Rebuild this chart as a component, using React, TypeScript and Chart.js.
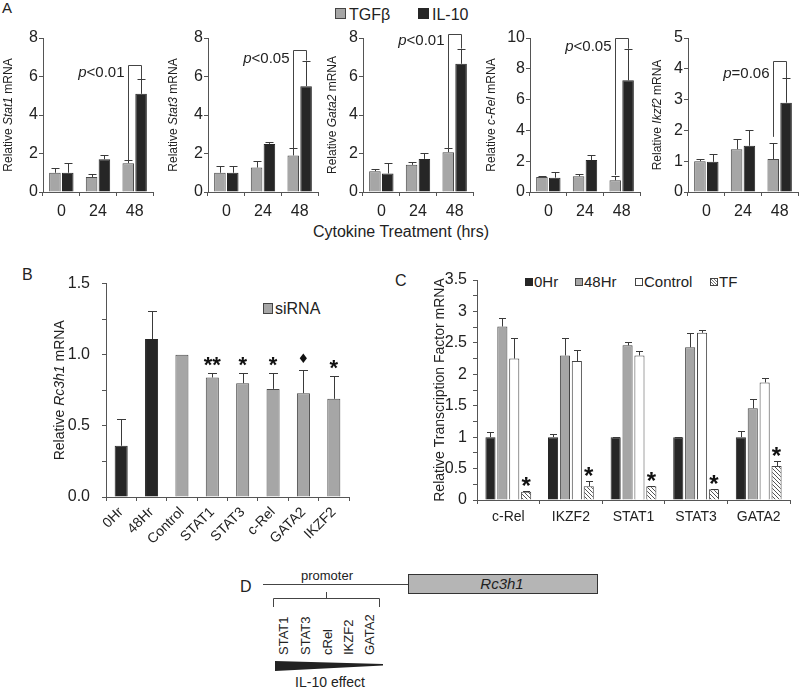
import React, { useEffect, useRef } from 'react';
import { Chart, registerables } from 'chart.js';

Chart.register(...registerables);

const FONT = "'Liberation Sans', Arial, 'DejaVu Sans', sans-serif";
const TXT = '#222222';
const AXIS = '#555555';
const GRAY = '#a6a6a6';
const BLACK = '#262626';
const EDGE = '#4a4a4a';

// ---------- Panel A data ----------
const timeLabels = ['0', '24', '48'];
const stat1TGF = [1.0, 0.78, 1.5];
const stat1TGFErr = [1.25, 0.93, 1.64];
const stat1IL10 = [1.0, 1.7, 5.1];
const stat1IL10Err = [1.5, 1.92, 5.87];

const stat3TGF = [1.0, 1.27, 1.9];
const stat3TGFErr = [1.37, 1.6, 2.26];
const stat3IL10 = [1.0, 2.5, 5.5];
const stat3IL10Err = [1.37, 2.6, 6.83];

const gata2TGF = [1.08, 1.41, 2.07];
const gata2TGFErr = [1.17, 1.58, 2.3];
const gata2IL10 = [0.96, 1.72, 6.66];
const gata2IL10Err = [1.5, 2.01, 7.45];

const crelTGF = [0.98, 1.02, 0.76];
const crelTGFErr = [1.04, 1.17, 1.04];
const crelIL10 = [0.93, 2.07, 7.25];
const crelIL10Err = [1.3, 2.39, 9.3];

const ikzf2TGF = [1.0, 1.39, 1.07];
const ikzf2TGFErr = [1.07, 1.72, 1.58];
const ikzf2IL10 = [0.98, 1.5, 2.9];
const ikzf2IL10Err = [1.22, 2.0, 3.7];

// ---------- Panel B data ----------
const siLabels = ['0Hr', '48Hr', 'Control', 'STAT1', 'STAT3', 'c-Rel', 'GATA2', 'IKZF2'];
const siValues = [0.36, 1.11, 1.0, 0.84, 0.8, 0.76, 0.73, 0.69];
const siErr = [0.55, 1.31, null, 0.87, 0.875, 0.875, 0.89, 0.85];
const siMarks = ['', '', '', '**', '*', '*', '\u2666', '*'];

// ---------- Panel C data ----------
const tfLabels = ['c-Rel', 'IKZF2', 'STAT1', 'STAT3', 'GATA2'];
const hr0Values = [1.0, 1.0, 1.0, 1.0, 1.0];
const hr0Err = [1.08, 1.05, 1.01, 1.01, 1.09];
const hr48Values = [2.76, 2.3, 2.46, 2.43, 1.46];
const hr48Err = [2.9, 2.57, 2.51, 2.66, 1.6];
const controlValues = [2.25, 2.21, 2.3, 2.66, 1.87];
const controlErr = [2.57, 2.38, 2.37, 2.71, 1.94];
const tfValues = [0.13, 0.22, 0.22, 0.17, 0.54];
const tfErr = [0.14, 0.3, 0.23, 0.18, 0.62];
const tfMarks = ['*', '*', '*', '*', '*'];

type Part = { t: string; i?: boolean };

function drawRich(ctx: CanvasRenderingContext2D, parts: Part[], x: number, y: number, size: number, align: 'left' | 'center' | 'right') {
  ctx.save();
  ctx.textBaseline = 'middle';
  ctx.textAlign = 'left';
  ctx.fillStyle = TXT;
  const fontOf = (p: Part) => `${p.i ? 'italic ' : ''}${size}px ${FONT}`;
  let total = 0;
  for (const p of parts) {
    ctx.font = fontOf(p);
    total += ctx.measureText(p.t).width;
  }
  let cx = align === 'center' ? x - total / 2 : align === 'right' ? x - total : x;
  for (const p of parts) {
    ctx.font = fontOf(p);
    ctx.fillText(p.t, cx, y);
    cx += ctx.measureText(p.t).width;
  }
  ctx.restore();
}

function drawYTitle(chart: any, parts: Part[], x: number, size: number) {
  const ctx = chart.ctx as CanvasRenderingContext2D;
  const a = chart.chartArea;
  ctx.save();
  ctx.translate(x, (a.top + a.bottom) / 2);
  ctx.rotate(-Math.PI / 2);
  drawRich(ctx, parts, 0, 0, size, 'center');
  ctx.restore();
}

function drawErrors(chart: any, capHalf: number) {
  const ctx = chart.ctx as CanvasRenderingContext2D;
  const ys = chart.scales.y;
  ctx.save();
  ctx.strokeStyle = '#3a3a3a';
  ctx.lineWidth = 1;
  chart.data.datasets.forEach((ds: any, di: number) => {
    if (!ds.errTop) return;
    const meta = chart.getDatasetMeta(di);
    meta.data.forEach((el: any, i: number) => {
      const e = ds.errTop[i];
      if (e == null) return;
      const x = Math.round(el.x) + 0.5;
      const py = Math.round(ys.getPixelForValue(e)) + 0.5;
      ctx.beginPath();
      ctx.moveTo(x, el.y);
      ctx.lineTo(x, py);
      ctx.moveTo(x - capHalf, py);
      ctx.lineTo(x + capHalf, py);
      ctx.stroke();
    });
  });
  ctx.restore();
}

function drawMarks(chart: any, size: number, gap: number) {
  const ctx = chart.ctx as CanvasRenderingContext2D;
  const ys = chart.scales.y;
  ctx.save();
  ctx.fillStyle = '#111';
  ctx.textAlign = 'center';
  ctx.textBaseline = 'alphabetic';
  chart.data.datasets.forEach((ds: any, di: number) => {
    if (!ds.marks) return;
    const meta = chart.getDatasetMeta(di);
    meta.data.forEach((el: any, i: number) => {
      const m = ds.marks[i];
      if (!m) return;
      const top = ds.errTop && ds.errTop[i] != null ? ys.getPixelForValue(ds.errTop[i]) : el.y;
      const isStar = m.indexOf('*') >= 0;
      ctx.font = isStar ? `bold ${size}px ${FONT}` : `${Math.round(size * 0.6)}px 'DejaVu Sans', ${FONT}`;
      const mt = ctx.measureText(m);
      const bottom = top - gap;
      ctx.fillText(m, el.x, bottom - mt.actualBoundingBoxDescent);
    });
  });
  ctx.restore();
}

function yAxis(max: number, step: number, yW: number, pad: number, size: number, fmt: (v: number) => string) {
  return {
    min: 0,
    max,
    ticks: {
      stepSize: step,
      autoSkip: false,
      padding: pad,
      font: { size, family: FONT },
      color: TXT,
      callback: (v: any) => fmt(Number(v)),
    },
    grid: { drawOnChartArea: false, drawTicks: true, tickLength: 4, color: AXIS, lineWidth: 1 },
    border: { display: true, color: AXIS, width: 1 },
    afterFit: (s: any) => {
      s.width = yW;
    },
  };
}

function xAxis(xH: number, pad: number, size: number, rot: number) {
  return {
    ticks: {
      autoSkip: false,
      padding: pad,
      maxRotation: rot,
      minRotation: rot,
      font: { size, family: FONT },
      color: TXT,
    },
    grid: { drawOnChartArea: false, drawTicks: true, tickLength: 4, color: AXIS, lineWidth: 1, offset: true },
    border: { display: true, color: AXIS, width: 1 },
    afterFit: (s: any) => {
      s.height = xH;
    },
  };
}

const isHalf = (v: number) => Math.abs(v * 2 - Math.round(v * 2)) < 1e-6;

function ChartBox({ left, top, width, height, make }: { left: number; top: number; width: number; height: number; make: () => any }) {
  const ref = useRef<HTMLCanvasElement | null>(null);
  useEffect(() => {
    if (!ref.current) return;
    const chart = new Chart(ref.current, make());
    return () => chart.destroy();
  }, []);
  return (
    <canvas
      ref={ref}
      width={width}
      height={height}
      style={{ position: 'absolute', left, top, width, height }}
    />
  );
}

// ---------- Panel A specs ----------
type ASpec = {
  axisX: number;
  titleX: number;
  gene: string;
  max: number;
  step: number;
  tgf: number[];
  tgfErr: number[];
  il: number[];
  ilErr: number[];
  brTop: number;
  brLeft: number;
  pText: string;
  textDy: number;
};

const panelA: ASpec[] = [
  { axisX: 43, titleX: 9, gene: 'Stat1', max: 8, step: 2, tgf: stat1TGF, tgfErr: stat1TGFErr, il: stat1IL10, ilErr: stat1IL10Err, brTop: 6.6, brLeft: 1.66, pText: '<0.01', textDy: 7 },
  { axisX: 208, titleX: 174, gene: 'Stat3', max: 8, step: 2, tgf: stat3TGF, tgfErr: stat3TGFErr, il: stat3IL10, ilErr: stat3IL10Err, brTop: 7.38, brLeft: 2.28, pText: '<0.05', textDy: 8 },
  { axisX: 363, titleX: 333, gene: 'Gata2', max: 8, step: 2, tgf: gata2TGF, tgfErr: gata2TGFErr, il: gata2IL10, ilErr: gata2IL10Err, brTop: 8.2, brLeft: 2.2, pText: '<0.01', textDy: 6 },
  { axisX: 530, titleX: 492, gene: 'c-Rel', max: 10, step: 2, tgf: crelTGF, tgfErr: crelTGFErr, il: crelIL10, ilErr: crelIL10Err, brTop: 10, brLeft: 1.1, pText: '<0.05', textDy: 8 },
  { axisX: 688, titleX: 658, gene: 'Ikzf2', max: 5, step: 1, tgf: ikzf2TGF, tgfErr: ikzf2TGFErr, il: ikzf2IL10, ilErr: ikzf2IL10Err, brTop: 4.25, brLeft: 1.79, pText: '=0.06', textDy: 12 },
];

const A_YW = 46;
const A_PADTOP = 16;
const A_PLOTW = 110;
const A_PLOTH = 154;
const A_XH = 30;

function makeA(spec: ASpec) {
  const canvasLeft = spec.axisX - A_YW;
  return () => ({
    type: 'bar',
    data: {
      labels: timeLabels,
      datasets: [
        { data: spec.tgf, errTop: spec.tgfErr, backgroundColor: GRAY, borderColor: EDGE, borderWidth: 1, categoryPercentage: 0.7, barPercentage: 0.9 },
        { data: spec.il, errTop: spec.ilErr, backgroundColor: BLACK, borderColor: BLACK, borderWidth: 1, categoryPercentage: 0.7, barPercentage: 0.9 },
      ],
    },
    options: {
      responsive: false,
      animation: false,
      layout: { padding: { top: A_PADTOP, right: 6, left: 0, bottom: 0 } },
      plugins: { legend: { display: false }, tooltip: { enabled: false } },
      scales: {
        x: xAxis(A_XH, 6, 16, 0),
        y: yAxis(spec.max, spec.step, A_YW, 1, 16, (v) => String(v)),
      },
    },
    plugins: [
      {
        id: 'decorA',
        afterDatasetsDraw(chart: any) {
          drawErrors(chart, 4);
          const ctx = chart.ctx as CanvasRenderingContext2D;
          const ys = chart.scales.y;
          const b0 = chart.getDatasetMeta(0).data[2];
          const b1 = chart.getDatasetMeta(1).data[2];
          const lx = Math.round(b0.x) + 0.5;
          const rx = Math.round(b1.x) + 0.5;
          const ty = Math.round(ys.getPixelForValue(spec.brTop)) + 0.5;
          ctx.save();
          ctx.strokeStyle = '#444';
          ctx.lineWidth = 1;
          ctx.beginPath();
          ctx.moveTo(lx, ys.getPixelForValue(spec.brLeft));
          ctx.lineTo(lx, ty);
          ctx.lineTo(rx, ty);
          ctx.lineTo(rx, ys.getPixelForValue(spec.ilErr[2]));
          ctx.stroke();
          ctx.restore();
          drawRich(ctx, [{ t: 'p', i: true }, { t: spec.pText }], lx - 4, ty + spec.textDy, 15, 'right');
          drawYTitle(chart, [{ t: 'Relative ' }, { t: spec.gene, i: true }, { t: ' mRNA' }], spec.titleX - canvasLeft, 12);
        },
      },
    ],
  });
}

// ---------- Panel B ----------
const B_LEFT = 40;
const B_YW = 66;
const B_TOP = 262;
const B_PADTOP = 20;
const B_PLOTW = 243;
const B_PLOTH = 215;
const B_XH = 60;

const makeB = () => ({
  type: 'bar',
  data: {
    labels: siLabels,
    datasets: [
      {
        data: siValues,
        errTop: siErr,
        marks: siMarks,
        backgroundColor: siValues.map((_, i) => (i < 2 ? BLACK : GRAY)),
        borderColor: siValues.map((_, i) => (i < 2 ? BLACK : EDGE)),
        borderWidth: 1,
        categoryPercentage: 1,
        barPercentage: 0.43,
      },
    ],
  },
  options: {
    responsive: false,
    animation: false,
    layout: { padding: { top: B_PADTOP, right: 6, left: 0, bottom: 0 } },
    plugins: { legend: { display: false }, tooltip: { enabled: false } },
    scales: {
      x: xAxis(B_XH, 3, 14, 45),
      y: yAxis(1.5, 0.25, B_YW, 12, 16, (v) => (isHalf(v) ? v.toFixed(1) : '')),
    },
  },
  plugins: [
    {
      id: 'decorB',
      afterDatasetsDraw(chart: any) {
        drawErrors(chart, 4.5);
        drawMarks(chart, 22, 7);
        drawYTitle(chart, [{ t: 'Relative ' }, { t: 'Rc3h1', i: true }, { t: ' mRNA' }], 60 - B_LEFT, 14);
      },
    },
  ],
});

// ---------- Panel C ----------
const C_LEFT = 420;
const C_YW = 57;
const C_TOP = 260;
const C_PADTOP = 20;
const C_PLOTW = 313;
const C_PLOTH = 220;
const C_XH = 35;

function makeHatch(): CanvasPattern | string {
  const c = document.createElement('canvas');
  c.width = 4;
  c.height = 4;
  const g = c.getContext('2d');
  if (!g) return '#ddd';
  g.fillStyle = '#ffffff';
  g.fillRect(0, 0, 4, 4);
  g.strokeStyle = '#555';
  g.lineWidth = 1;
  g.beginPath();
  g.moveTo(0, 0);
  g.lineTo(4, 4);
  g.moveTo(-1, 3);
  g.lineTo(1, 5);
  g.moveTo(3, -1);
  g.lineTo(5, 1);
  g.stroke();
  return g.createPattern(c, 'repeat') || '#ddd';
}

const makeC = () => {
  const common = { borderColor: '#444', borderWidth: 1, categoryPercentage: 0.76, barPercentage: 0.85 };
  return {
    type: 'bar',
    data: {
      labels: tfLabels,
      datasets: [
        { label: '0Hr', data: hr0Values, errTop: hr0Err, backgroundColor: BLACK, ...common, borderColor: BLACK },
        { label: '48Hr', data: hr48Values, errTop: hr48Err, backgroundColor: GRAY, ...common },
        { label: 'Control', data: controlValues, errTop: controlErr, backgroundColor: '#ffffff', ...common },
        { label: 'TF', data: tfValues, errTop: tfErr, marks: tfMarks, backgroundColor: makeHatch(), ...common },
      ],
    },
    options: {
      responsive: false,
      animation: false,
      layout: { padding: { top: C_PADTOP, right: 8, left: 0, bottom: 0 } },
      plugins: { legend: { display: false }, tooltip: { enabled: false } },
      scales: {
        x: xAxis(C_XH, 5, 14, 0),
        y: yAxis(3.5, 0.25, C_YW, 6, 16, (v) => (isHalf(v) ? String(v) : '')),
      },
    },
    plugins: [
      {
        id: 'decorC',
        afterDatasetsDraw(chart: any) {
          drawErrors(chart, 3.5);
          drawMarks(chart, 24, 5);
          drawYTitle(chart, [{ t: 'Relative Transcription Factor mRNA' }], 440 - C_LEFT, 14);
        },
      },
    ],
  };
};

// ---------- Panel D labels ----------
const dFactors = ['STAT1', 'STAT3', 'cRel', 'IKZF2', 'GATA2'];
const dFactorX = [283, 305, 327, 348, 369];

function Static() {
  return (
    <svg width={800} height={687} style={{ position: 'absolute', left: 0, top: 0 }} fontFamily={FONT}>
      <defs>
        <pattern id="hatch" width="3" height="3" patternUnits="userSpaceOnUse">
          <rect width="3" height="3" fill="#fff" />
          <path d="M0,0 L3,3 M-1,2 L1,4 M2,-1 L4,1" stroke="#555" strokeWidth="0.8" />
        </pattern>
      </defs>
      {/* panel letters */}
      <text x={2} y={13} fontSize={15} fill={TXT}>A</text>
      <text x={22} y={280} fontSize={16} fill={TXT}>B</text>
      <text x={395} y={286} fontSize={16} fill={TXT}>C</text>
      <text x={240} y={592} fontSize={16} fill={TXT}>D</text>

      {/* panel A legend */}
      <rect x={335.5} y={8.5} width={10} height={10} fill={GRAY} stroke="#444" />
      <text x={349} y={20} fontSize={16} fill={TXT}>TGFβ</text>
      <rect x={418.5} y={8.5} width={10} height={10} fill={BLACK} stroke={BLACK} />
      <text x={432} y={20} fontSize={16} fill={TXT}>IL-10</text>
      <text x={401} y={237} fontSize={16} fill={TXT} textAnchor="middle">Cytokine Treatment (hrs)</text>

      {/* panel B legend */}
      <rect x={263.5} y={303.5} width={9} height={10} fill={GRAY} stroke="#444" />
      <text x={275} y={314} fontSize={16} fill={TXT}>siRNA</text>

      {/* panel C legend */}
      <rect x={525.5} y={278.5} width={7} height={7} fill={BLACK} stroke={BLACK} />
      <text x={534} y={287} fontSize={15} fill={TXT}>0Hr</text>
      <rect x={575.5} y={278.5} width={7} height={7} fill={GRAY} stroke="#444" />
      <text x={584} y={287} fontSize={15} fill={TXT}>48Hr</text>
      <rect x={635.5} y={278.5} width={7} height={7} fill="#fff" stroke="#444" />
      <text x={644} y={287} fontSize={15} fill={TXT}>Control</text>
      <rect x={710.5} y={278.5} width={7} height={7} fill="url(#hatch)" stroke="#444" />
      <text x={719} y={287} fontSize={15} fill={TXT}>TF</text>

      {/* panel D diagram */}
      <line x1={263} y1={584.5} x2={408} y2={584.5} stroke="#444" strokeWidth={1} />
      <rect x={408.5} y={574.5} width={189} height={19} fill="#b5b5b5" stroke="#333" />
      <text x={502} y={589} fontSize={15} fontStyle="italic" fill={TXT} textAnchor="middle">Rc3h1</text>
      <text x={327} y={580} fontSize={13} fill={TXT} textAnchor="middle">promoter</text>
      <path d="M273.5,607 L273.5,598.5 L379.5,598.5 L379.5,607 M326.5,598.5 L326.5,592" stroke="#444" fill="none" strokeWidth={1} />
      {dFactors.map((f, i) => (
        <text key={f} transform={`translate(${dFactorX[i] + 4.6},655) rotate(-90)`} fontSize={13} fill={TXT}>
          {f}
        </text>
      ))}
      <polygon points="275,661 383,664 383,665.5 275,671" fill="#222" />
      <text x={330} y={687} fontSize={14} fill={TXT} textAnchor="middle">IL-10 effect</text>
    </svg>
  );
}

export default function App() {
  return (
    <div style={{ position: 'absolute', left: 0, top: 0, width: 800, height: 687, background: '#fff', overflow: 'hidden' }}>
      <Static />
      {panelA.map((s) => (
        <ChartBox
          key={s.gene}
          left={s.axisX - A_YW}
          top={38 - A_PADTOP}
          width={A_YW + A_PLOTW + 6}
          height={A_PADTOP + A_PLOTH + A_XH}
          make={makeA(s)}
        />
      ))}
      <ChartBox left={B_LEFT} top={B_TOP} width={B_YW + B_PLOTW + 6} height={B_PADTOP + B_PLOTH + B_XH} make={makeB} />
      <ChartBox left={C_LEFT} top={C_TOP} width={C_YW + C_PLOTW + 8} height={C_PADTOP + C_PLOTH + C_XH} make={makeC} />
    </div>
  );
}
